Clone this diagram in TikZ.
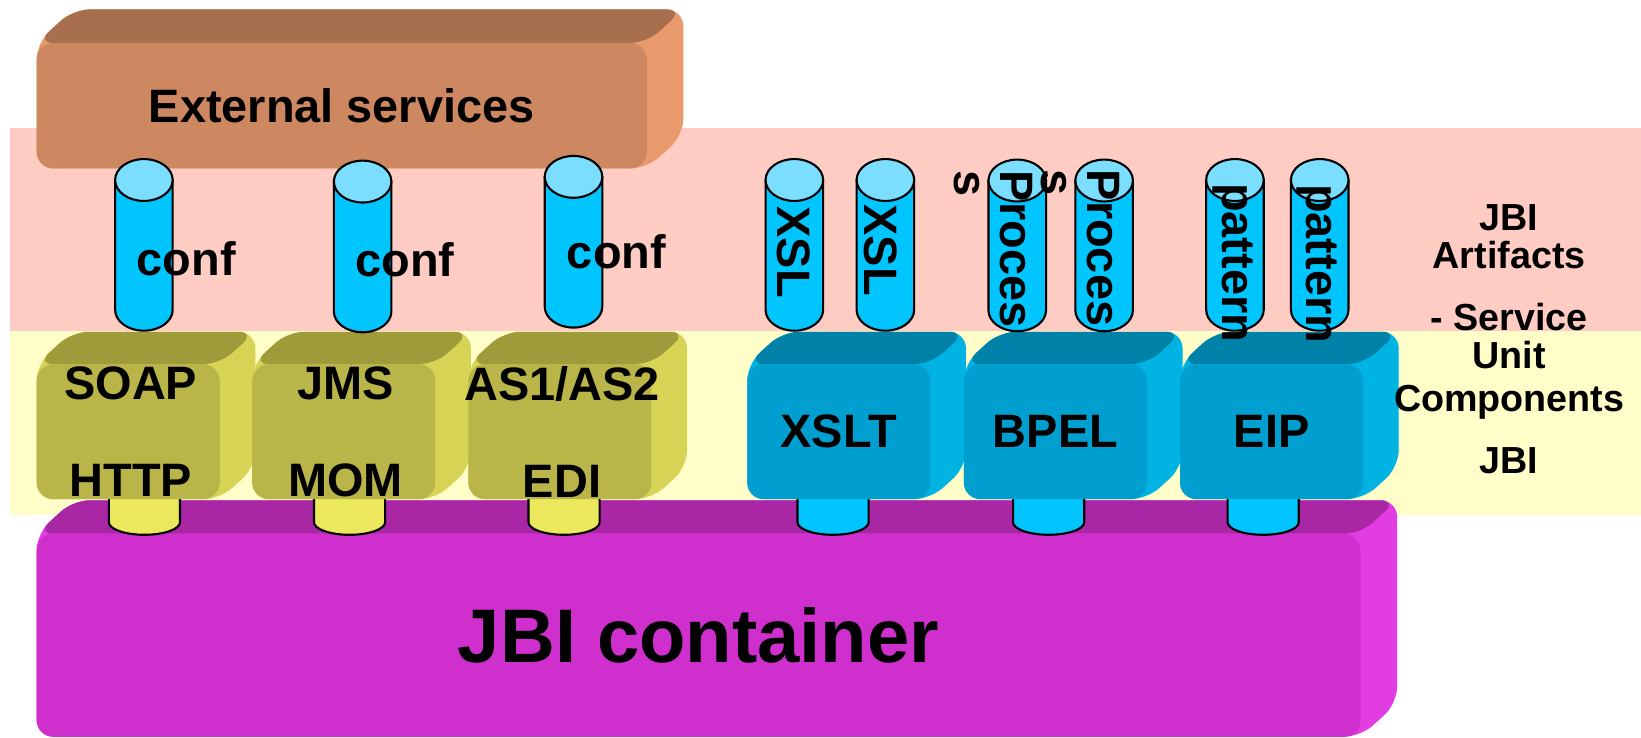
\documentclass[tikz,border=0pt]{standalone}
\usepackage{fontspec}
\setmainfont{Liberation Sans}
\usetikzlibrary{calc}

\definecolor{artPink}{HTML}{FFCCC4}
\definecolor{unitYellow}{HTML}{FFFDC8}
\definecolor{extFront}{HTML}{CD8862}
\definecolor{extTop}{HTML}{A86F4E}
\definecolor{extSide}{HTML}{E89A6C}
\definecolor{oliFront}{HTML}{B9B548}
\definecolor{oliTop}{HTML}{9F9B3A}
\definecolor{oliSide}{HTML}{D7D455}
\definecolor{bluFront}{HTML}{009FCF}
\definecolor{bluTop}{HTML}{0081A8}
\definecolor{bluSide}{HTML}{00B3E3}
\definecolor{jbiFront}{HTML}{CF30CD}
\definecolor{jbiTop}{HTML}{A926A4}
\definecolor{jbiSide}{HTML}{E23DE3}
\definecolor{canBody}{HTML}{00C5FF}
\definecolor{canTop}{HTML}{7CDEFF}
\definecolor{pegYellow}{HTML}{EBE85E}

\pgfdeclarelayer{bands}
\pgfdeclarelayer{depth}
\pgfsetlayers{bands,depth,main}

\begin{document}
\begin{tikzpicture}[x=0.5pt, y=-0.5pt,
        txt/.style={font=\fontsize{22.4}{22}\selectfont\bfseries},
        block/.style={rectangle, rounded corners=8pt, fill=#1, inner sep=0pt, outer sep=0pt, minimum width=87.5pt, minimum height=64.5pt, txt},
        tag/.style={font=\fontsize{22.4}{46.5}\selectfont\bfseries, align=center},
        can/.style={rectangle, inner sep=0pt, outer sep=0pt, minimum width=27.5pt, minimum height=82pt},
        peg/.style={can, minimum width=34pt, minimum height=35.5pt},
        vert/.style={txt, rotate=-90, align=left},
        side/.style={font=\fontsize{18}{18}\selectfont\bfseries, align=center, inner sep=0pt}
    ]
    \useasboundingbox (0,0) rectangle (1568,705);

    % bands
    \begin{pgfonlayer}{bands}
        \fill[artPink] (10,122) rectangle (1568,316);
        \fill[unitYellow] (10,316) rectangle (1568,492);
    \end{pgfonlayer}

    \node[block=extFront, minimum width=291.5pt, minimum height=60pt] (ext) at (326.5,101) {External services};
    \node[block=jbiFront, minimum width=632.5pt, minimum height=97pt, font=\fontsize{36.3}{40}\selectfont\bfseries] (jbi) at (667.5,607) {JBI container};

    % pegs into the container
    \foreach \x/\c [count=\i] in {138/pegYellow, 334/pegYellow, 539/pegYellow, 796/canBody, 1002/canBody, 1207/canBody} {
        \node[peg] (peg\i) at (\x,475.5) {};
        \filldraw[fill=\c, line width=1pt] ([yshift=-6pt]peg\i.north west) -- ([yshift=6pt]peg\i.south west)
            arc[start angle=180, end angle=360, x radius=17pt, y radius=6pt] -- ([yshift=-6pt]peg\i.north east) -- cycle;
    }

    % binding and engine components
    \node[block=oliFront] (soap) at (122.5,412.5) {};
    \node[block=oliFront] (jms) at (328.5,412.5) {};
    \node[block=oliFront] (as) at (535,412.5) {};
    \node[block=bluFront] (xslt) at (801.5,412.5) {XSLT};
    \node[block=bluFront] (bpel) at (1008.5,412.5) {BPEL};
    \node[block=bluFront] (eip) at (1215,412.5) {EIP};
    \node[tag] (soapT) at (125,412.5) {SOAP\\HTTP};
    \node[tag] (jmsT) at (330,412.5) {JMS\\MOM};
    \node[tag] (asT) at (537,412.5) {AS1/AS2\\EDI};

    \begin{pgfonlayer}{depth}
        \foreach \b/\dx/\dy/\col in {ext/35/-32/ext, jbi/35/-32/jbi, soap/34/-31/oli, jms/34/-31/oli, as/34/-31/oli, xslt/34/-31/blu, bpel/34/-31/blu, eip/34/-31/blu} {
            \fill[\col Side, rounded corners=8pt] (\b.north west) -- ++(\dx,\dy) -- ($(\b.north east)+(\dx,\dy)$) -- ($(\b.south east)+(\dx,\dy)$) -- (\b.south east) -- (\b.south west) -- cycle;
            \fill[\col Top, rounded corners=8pt] (\b.north west) -- ++(\dx,\dy) -- ($(\b.north east)+(\dx,\dy)$) -- (\b.north east) -- cycle;
        }
    \end{pgfonlayer}

    % artifacts
    \foreach \n/\x/\y in {conf1/137.5/234, conf2/346.5/235.5, conf3/548/231, xsl1/759/234, xsl2/846/234, proc1/972/234.5, proc2/1055/234.5, pat1/1180/234, pat2/1261/234} {
        \node[can] (\n) at (\x,\y) {};
        \filldraw[fill=canBody, line width=1pt] ([yshift=-10pt]\n.north west) -- ([yshift=10pt]\n.south west)
            arc[start angle=180, end angle=360, x radius=13.75pt, y radius=10pt] -- ([yshift=-10pt]\n.north east) -- cycle;
        \filldraw[fill=canTop, line width=1pt] ([yshift=-10pt]\n.north) ellipse[x radius=13.75pt, y radius=10pt];
    }

    \node[txt] (conf1T) at (178,247) {conf};
    \node[txt] (conf2T) at (387,248) {conf};
    \node[txt] (conf3T) at (589,241) {conf};
    \node[vert] (xsl1T) at (758,241) {XSL};
    \node[vert] (xsl2T) at (841,239) {XSL};
    \node[vert] (proc1T) at (949,238) {Proces\\s};
    \node[vert] (proc2T) at (1032,237) {Proces\\s};
    \node[vert] (pat1T) at (1178,251) {pattern};
    \node[vert] (pat2T) at (1258,252) {pattern};

    % layer names
    \node[side] (artT) at (1442,226.5) {JBI\\Artifacts};
    \node[side] (svcT) at (1442,321) {- Service\\Unit};
    \node[side] (compT) at (1442,384) {Components};
    \node[side] (jbiT) at (1442,440) {JBI};
\end{tikzpicture}
\end{document}
